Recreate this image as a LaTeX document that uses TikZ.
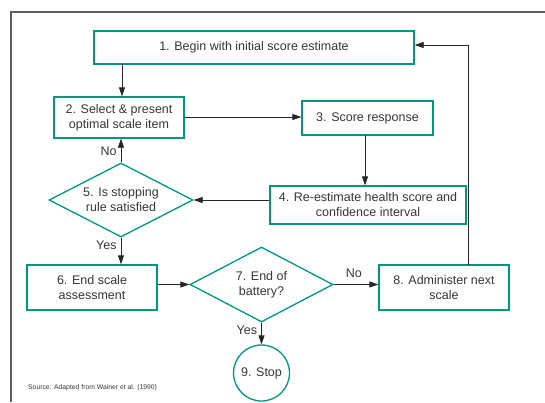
\documentclass[tikz,border=0pt]{standalone}
\usepackage{fontspec}
\setmainfont{Liberation Sans}
\usetikzlibrary{shapes.geometric,arrows.meta}
\definecolor{teal1}{RGB}{0,152,122}
\definecolor{ink}{RGB}{55,55,55}
\definecolor{framec}{RGB}{95,95,95}
\tikzset{
  txt/.style={text=ink, font=\fontsize{12.5bp}{15bp}\selectfont},
  boxnode/.style={txt, draw=teal1, line width=1.3bp, align=center, inner sep=0pt},
  decision/.style={draw=teal1, line width=1.3bp, diamond, inner sep=0pt},
  dtext/.style={txt, align=center, inner sep=0pt},
  stopnode/.style={txt, draw=teal1, line width=1.3bp, circle, inner sep=0pt, minimum size=56bp},
  flow/.style={draw=black!85, line width=0.8bp, -{Triangle[length=9bp,width=6bp]}},
  lbl/.style={txt, inner sep=0pt},
}
\begin{document}
\begin{tikzpicture}[x=1bp,y=-1bp]
\useasboundingbox (0,0) rectangle (545,402);
\fill[white] (0,0) rectangle (545,402);
\draw[framec, line width=1.5bp] (11,402) -- (11,12) -- (545,12);

\node[boxnode, minimum width=320bp, minimum height=33bp] (b1) at (254,47.5) {1. Begin with initial score estimate};
\node[boxnode, minimum width=130bp, minimum height=41bp] (b2) at (119,117.5) {2. Select \& present\\optimal scale item};
\node[boxnode, minimum width=131bp, minimum height=34bp] (b3) at (367.5,118) {3. Score response};
\node[boxnode, minimum width=196bp, minimum height=38bp] (b4) at (368,205) {4. Re-estimate health score and\\confidence interval};
\node[decision, minimum width=144bp, minimum height=74bp] (d5) at (121,200) {};
\node[dtext] (t5) at (d5) {5. Is stopping\\rule satisfied};
\node[boxnode, minimum width=130bp, minimum height=45bp] (b6) at (92,287.5) {6. End scale\\assessment};
\node[decision, minimum width=143bp, minimum height=75bp] (d7) at (261.5,284.5) {};
\node[dtext] (t7) at (d7) {7. End of\\battery?};
\node[boxnode, minimum width=130bp, minimum height=45bp] (b8) at (444,287.5) {8. Administer next\\scale};
\node[stopnode] (s9) at (261.5,373) {9. Stop};

\node[anchor=west, inner sep=0pt, text=ink, font=\fontsize{6.8bp}{8bp}\selectfont] (src) at (28,388) {Source: Adapted from Wainer et al. (1990)};

\coordinate (c1) at (122,64);
\draw[flow] (c1) -- (b2.north -| c1);
\draw[flow] (b2.east |- 0,117) -- (b3.west |- 0,117);
\coordinate (c3) at (365,135);
\draw[flow] (c3) -- (b4.north -| c3);
\draw[flow] (b4.west |- d5.east) -- (d5.east);
\draw[flow] (d5.north) -- (b2.south -| d5.north) node[lbl, pos=0.45, left=4bp] (no5) {No};
\draw[flow] (d5.south) -- (b6.north -| d5.south) node[lbl, pos=0.3, left=4bp] (yes5) {Yes};
\draw[flow] (b6.east |- d7.west) -- (d7.west);
\draw[flow] (d7.east) -- (b8.west |- d7.east) node[lbl, pos=0.45, above=6bp] (no7) {No};
\draw[flow] (d7.south) -- (s9.north) node[lbl, pos=0.35, left=4bp] (yes7) {Yes};
\coordinate (c8) at (468,265);
\coordinate (c8t) at (468,45);
\draw[flow] (c8) -- (c8t) -- (b1.east |- c8t);
\end{tikzpicture}
\end{document}
